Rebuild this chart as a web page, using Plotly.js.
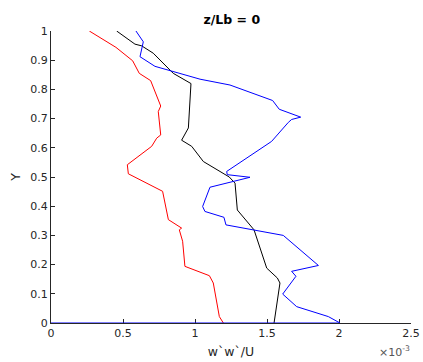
<!DOCTYPE html>
<html>
<head>
<meta charset="utf-8">
<script src="https://cdn.plot.ly/plotly-3.0.1.min.js"></script>
<style>html,body{margin:0;padding:0;background:#fff;}#chart{width:423px;height:362px;}</style>
</head>
<body>
<div id="chart"></div>
<script>
// values in units of 1e-3
const redX = [1.197, 1.169, 1.127, 1.100, 0.930, 0.914, 0.891, 0.907, 0.815, 0.775, 0.537, 0.530, 0.699, 0.734, 0.762, 0.745, 0.762, 0.692, 0.613, 0.567, 0.451, 0.266];
const redY = [0.000, 0.022, 0.137, 0.162, 0.194, 0.280, 0.319, 0.325, 0.354, 0.451, 0.511, 0.542, 0.605, 0.633, 0.644, 0.724, 0.743, 0.830, 0.855, 0.898, 0.944, 1.000];

const blackX = [1.549, 1.590, 1.572, 1.533, 1.498, 1.410, 1.294, 1.278, 1.255, 1.238, 1.058, 0.977, 0.907, 0.954, 0.972, 0.849, 0.710, 0.630, 0.583, 0.456];
const blackY = [0.000, 0.137, 0.154, 0.171, 0.188, 0.319, 0.387, 0.479, 0.493, 0.500, 0.553, 0.605, 0.626, 0.668, 0.820, 0.855, 0.924, 0.949, 0.955, 1.000];

const blueX = [0.000, 2.007, 1.926, 1.706, 1.609, 1.701, 1.671, 1.857, 1.613, 1.215, 1.201, 1.069, 1.053, 1.104, 1.382, 1.224, 1.220, 1.532, 1.648, 1.671, 1.734, 1.660, 1.585, 1.539, 1.243, 1.035, 0.722, 0.618, 0.641, 0.590];
const blueY = [0.000, 0.000, 0.022, 0.056, 0.099, 0.160, 0.177, 0.197, 0.300, 0.336, 0.362, 0.382, 0.399, 0.465, 0.499, 0.508, 0.519, 0.622, 0.687, 0.697, 0.705, 0.718, 0.732, 0.762, 0.815, 0.835, 0.879, 0.912, 0.963, 1.000];

const xTicks = [0, 0.5, 1, 1.5, 2, 2.5];
const xTickText = ["0", "0.5", "1", "1.5", "2", "2.5"];
const yTicks = [0, 0.1, 0.2, 0.3, 0.4, 0.5, 0.6, 0.7, 0.8, 0.9, 1];
const yTickText = ["0", "0.1", "0.2", "0.3", "0.4", "0.5", "0.6", "0.7", "0.8", "0.9", "1"];

const traces = [
  {x: redX, y: redY, mode: 'lines', line: {color: '#ff0000', width: 1}},
  {x: blackX, y: blackY, mode: 'lines', line: {color: '#000000', width: 1}},
  {x: blueX, y: blueY, mode: 'lines', line: {color: '#0000ff', width: 1}}
];

const axColor = '#262626';
const layout = {
  width: 423, height: 362,
  margin: {l: 51, r: 12, t: 31, b: 39, pad: 0},
  paper_bgcolor: '#ffffff', plot_bgcolor: '#ffffff',
  showlegend: false,
  font: {family: 'DejaVu Sans, sans-serif', size: 11, color: axColor},
  title: {text: '<b>z/Lb = 0</b>', x: 0.548, xanchor: 'center', y: 0.945, yanchor: 'middle',
          font: {family: 'DejaVu Sans, sans-serif', size: 12.5, color: '#000000'}},
  xaxis: {
    range: [0, 2.5], tickvals: xTicks, ticktext: xTickText,
    showline: true, linecolor: axColor, linewidth: 1, mirror: false,
    ticks: 'inside', ticklen: 4, tickcolor: axColor, showgrid: false, zeroline: false,
    layer: 'below traces',
    title: {text: 'w`w`/U', font: {size: 12.5, color: axColor}, standoff: 8},
    tickfont: {size: 11, color: axColor}
  },
  yaxis: {
    range: [0, 1], tickvals: yTicks, ticktext: yTickText,
    showline: true, linecolor: axColor, linewidth: 1, mirror: false,
    ticks: 'inside', ticklen: 4, tickcolor: axColor, showgrid: false, zeroline: false,
    layer: 'below traces',
    title: {text: 'Y', font: {size: 12.5, color: axColor}, standoff: 6},
    tickfont: {size: 11, color: axColor}
  },
  annotations: [
    {text: '×10<sup>-3</sup>', xref: 'paper', yref: 'paper', x: 1.003, y: -0.097, xanchor: 'right', yanchor: 'middle',
     showarrow: false, font: {size: 11, color: '#555555'}}
  ]
};

Plotly.newPlot('chart', traces, layout, {staticPlot: true, displayModeBar: false});
</script>
</body>
</html>
